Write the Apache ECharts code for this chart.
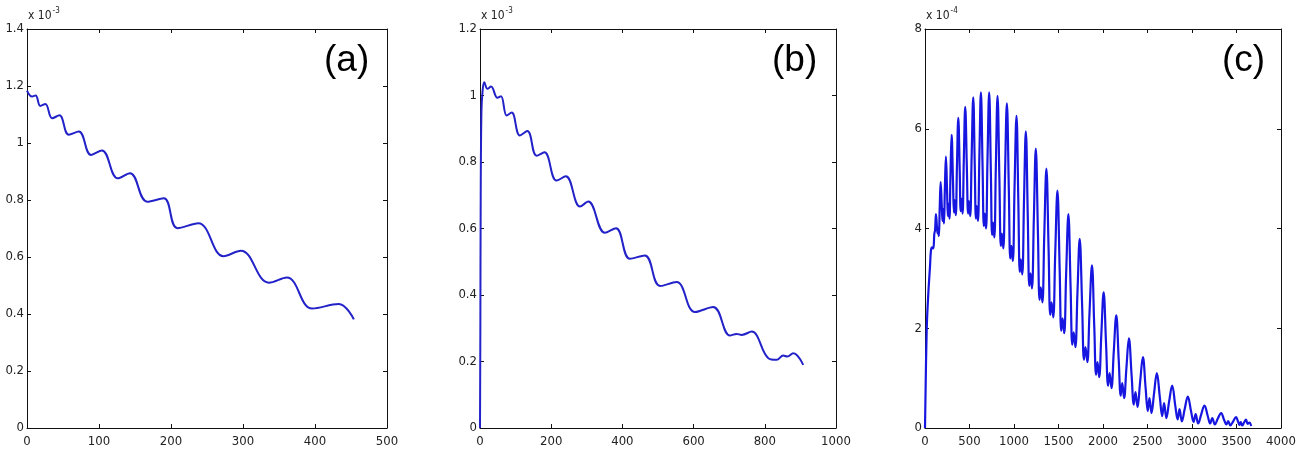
<!DOCTYPE html>
<html><head><meta charset="utf-8">
<script src="https://cdn.jsdelivr.net/npm/echarts@6/dist/echarts.min.js"></script>
<style>html,body{margin:0;padding:0;background:#fff;}#main{width:1311px;height:457px;}</style>
</head><body><div id="main"></div>
<script>
// ---------- panel labels / axis settings ----------
const panelLabels = ['(a)', '(b)', '(c)'];
const exponents = ['-3', '-3', '-4'];
const xMax = [500, 1000, 4000];
const xStep = [100, 200, 500];
const yMax = [1.4, 1.2, 8];
const yStep = [0.2, 0.2, 2];

// ---------- panel (a) : values in units of 1e-3 ----------
const aX = [0, 7, 12, 18.5, 25.5, 35, 45, 58, 72, 89, 104, 126, 143, 167, 190, 209, 238, 273, 297, 336, 361, 396, 433, 454];
const aY = [1.184, 1.163, 1.167, 1.13, 1.137, 1.087, 1.097, 1.029, 1.04, 0.958, 0.974, 0.876, 0.894, 0.794, 0.806, 0.701, 0.718, 0.603, 0.622, 0.51, 0.528, 0.419, 0.435, 0.381];

// ---------- panel (b) : values in units of 1e-3 ----------
const bX = [0, 1, 2, 4, 7, 12, 21, 31, 49, 59, 75, 89, 112, 133, 159, 181, 215, 241, 281, 304, 351, 382, 421, 463, 506, 552, 604, 655, 702, 721, 735, 763, 810, 833, 852, 863, 880, 908];
const bY = [0, 0.3, 0.7, 0.95, 1.01, 1.04, 1.02, 1.027, 0.993, 0.998, 0.94, 0.949, 0.88, 0.893, 0.819, 0.829, 0.744, 0.757, 0.666, 0.681, 0.587, 0.601, 0.509, 0.519, 0.427, 0.439, 0.349, 0.364, 0.278, 0.283, 0.280, 0.29, 0.21, 0.205, 0.218, 0.215, 0.225, 0.19];

// ---------- panel (c) : values in units of 1e-4 ----------
const cX = [0, 19, 37, 56, 67, 80, 93, 105, 113, 123,
  134, 142, 148, 156, 165, 176,
  188, 197, 204, 213, 223, 235,
  248, 257, 265, 275, 286, 299,
  314, 325, 334, 346, 359, 374,
  390, 401, 411, 422, 436, 452,
  470, 484, 494, 508, 524, 542,
  559, 572, 582, 595, 611, 628,
  647, 661, 672, 686, 702, 721,
  740, 754, 765, 779, 796, 815,
  836, 852, 864, 880, 899, 920,
  942, 958, 971, 987, 1006, 1028,
  1049, 1065, 1077, 1093, 1112, 1133,
  1155, 1172, 1186, 1202, 1223, 1245,
  1269, 1287, 1301, 1319, 1340, 1364,
  1389, 1407, 1422, 1441, 1463, 1488,
  1513, 1531, 1546, 1564, 1586, 1611,
  1636, 1655, 1671, 1690, 1713, 1738,
  1766, 1786, 1803, 1824, 1848, 1876,
  1902, 1922, 1938, 1957, 1981, 2007,
  2035, 2057, 2074, 2095, 2121, 2149,
  2177, 2199, 2216, 2237, 2263, 2291,
  2322, 2346, 2365, 2388, 2417, 2448,
  2479, 2503, 2522, 2545, 2574, 2605,
  2639, 2665, 2686, 2712, 2743, 2777,
  2812, 2839, 2860, 2886, 2918, 2953,
  2990, 3018, 3041, 3069, 3103, 3140,
  3177, 3205, 3228, 3256, 3290, 3327,
  3361, 3386, 3406, 3431, 3461, 3495,
  3517, 3534, 3548, 3564, 3585, 3607,
  3625, 3645, 3665];
const cY = [0, 1.96, 2.69, 3.23, 3.56, 3.62, 3.60, 3.90, 3.96, 4.29,
  4.05, 3.90, 4.00, 3.85, 4.39, 4.93,
  4.47, 4.15, 4.39, 4.10, 4.77, 5.44,
  4.76, 4.25, 4.50, 4.20, 5.04, 5.88,
  4.99, 4.32, 4.57, 4.27, 5.25, 6.22,
  5.16, 4.35, 4.60, 4.30, 5.37, 6.44,
  5.24, 4.30, 4.55, 4.25, 5.44, 6.63,
  5.27, 4.20, 4.45, 4.15, 5.44, 6.73,
  5.23, 4.05, 4.30, 4.00, 5.37, 6.73,
  5.13, 3.87, 4.12, 3.82, 5.24, 6.66,
  4.98, 3.65, 3.90, 3.60, 5.06, 6.51,
  4.77, 3.40, 3.65, 3.35, 4.81, 6.26,
  4.51, 3.13, 3.38, 3.08, 4.52, 5.95,
  4.22, 2.85, 3.10, 2.80, 4.20, 5.60,
  3.91, 2.57, 2.82, 2.52, 3.86, 5.20,
  3.56, 2.27, 2.52, 2.22, 3.49, 4.76,
  3.19, 1.95, 2.20, 1.90, 3.10, 4.29,
  2.82, 1.67, 1.92, 1.62, 2.71, 3.79,
  2.43, 1.37, 1.62, 1.32, 2.29, 3.26,
  2.03, 1.07, 1.32, 1.02, 1.87, 2.72,
  1.66, 0.85, 1.10, 0.80, 1.53, 2.26,
  1.35, 0.65, 0.90, 0.60, 1.20, 1.80,
  1.04, 0.47, 0.72, 0.42, 0.92, 1.42,
  0.80, 0.34, 0.60, 0.30, 0.70, 1.10,
  0.61, 0.24, 0.50, 0.20, 0.53, 0.85,
  0.45, 0.17, 0.38, 0.13, 0.38, 0.63,
  0.33, 0.12, 0.28, 0.09, 0.27, 0.45,
  0.24, 0.09, 0.20, 0.07, 0.19, 0.30,
  0.16, 0.07, 0.14, 0.05, 0.13, 0.22,
  0.13, 0.06, 0.12, 0.05, 0.11, 0.17,
  0.08, 0.11, 0.04];

const seriesX = [aX, bX, cX];
const seriesY = [aY, bY, cY];

// ---------- layout / styles ----------
const grids = [
  {left: 27, top: 29, width: 360, height: 399},
  {left: 480, top: 29, width: 356, height: 399},
  {left: 925, top: 29, width: 356, height: 399}
];
const labelLeft = [324, 772, 1222];
const lineColors = ['#2222c8', '#2222c8', '#1616e0'];
const lineWidths = [2, 2, 2.2];
const tickFont = "'Liberation Sans Narrow','Arial Narrow','DejaVu Sans Condensed','Liberation Sans',sans-serif";
const txtColor = '#222';
const fmt = v => String(Math.round(v * 10000) / 10000);

const xAxes = [], yAxes = [], series = [], titles = [];
for (let i = 0; i < 3; i++) {
  const common = {
    gridIndex: i, type: 'value', min: 0,
    axisLine: {show: true, onZero: false, lineStyle: {color: '#111', width: 1}},
    axisTick: {show: true, inside: true, length: 4, lineStyle: {color: '#111'}},
    splitLine: {show: false}
  };
  xAxes.push(Object.assign({}, common, {
    position: 'bottom', max: xMax[i], interval: xStep[i],
    axisLabel: {margin: 7, fontSize: 13, color: txtColor, fontFamily: tickFont, formatter: fmt}
  }));
  xAxes.push(Object.assign({}, common, {
    position: 'top', max: xMax[i], interval: xStep[i], axisLabel: {show: false}
  }));
  yAxes.push(Object.assign({}, common, {
    position: 'left', max: yMax[i], interval: yStep[i],
    axisLabel: {margin: 3, fontSize: 13, color: txtColor, fontFamily: tickFont, formatter: fmt},
    name: '{a|x 10}{b|' + exponents[i] + '}', nameLocation: 'end', nameGap: 4,
    nameTextStyle: {
      align: 'left', verticalAlign: 'bottom', padding: [0, 0, 0, 1],
      rich: {
        a: {fontSize: 12, color: txtColor, fontFamily: tickFont},
        b: {fontSize: 8, color: txtColor, fontFamily: tickFont, verticalAlign: 'top', padding: [0, 0, 10, 1]}
      }
    }
  }));
  yAxes.push(Object.assign({}, common, {
    position: 'right', max: yMax[i], interval: yStep[i], axisLabel: {show: false}
  }));
  series.push({
    type: 'line', xAxisIndex: i * 2, yAxisIndex: i * 2,
    data: seriesX[i].map((x, k) => [x, seriesY[i][k]]),
    showSymbol: false, smooth: 0.4,
    lineStyle: {color: lineColors[i], width: lineWidths[i]},
    animation: false
  });
  titles.push({
    text: panelLabels[i], left: labelLeft[i], top: 42, padding: 0,
    textStyle: {fontSize: 37, fontWeight: 'normal', color: '#000', fontFamily: "'Liberation Sans',Arial,sans-serif"}
  });
}

const chart = echarts.init(document.getElementById('main'), null, {renderer: 'canvas'});
chart.setOption({
  backgroundColor: '#ffffff',
  animation: false,
  title: titles,
  grid: grids,
  xAxis: xAxes,
  yAxis: yAxes,
  series: series
});
</script></body></html>
